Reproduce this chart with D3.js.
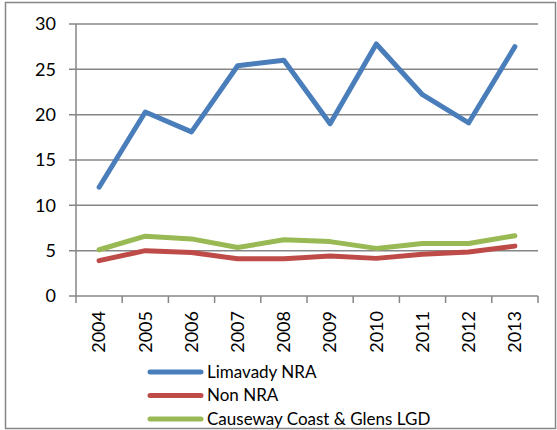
<!DOCTYPE html>
<html>
<head>
<meta charset="utf-8">
<script src="https://cdn.jsdelivr.net/npm/d3@7"></script>
<style>
  body { margin: 0; background: #fff; }
  text { font-family: Lato, "Noto Sans", sans-serif; fill: #000; }
</style>
</head>
<body>
<script>
const years = ["2004", "2005", "2006", "2007", "2008", "2009", "2010", "2011", "2012", "2013"];
const limavady = [12.0, 20.3, 18.1, 25.4, 26.0, 19.0, 27.8, 22.2, 19.1, 27.5];
const nonNra = [3.9, 5.0, 4.8, 4.1, 4.1, 4.4, 4.15, 4.6, 4.85, 5.5];
const causeway = [5.1, 6.6, 6.3, 5.35, 6.2, 6.0, 5.25, 5.8, 5.8, 6.65];
const seriesNames = ["Limavady NRA", "Non NRA", "Causeway Coast & Glens LGD"];
const yTicks = [0, 5, 10, 15, 20, 25, 30];

const colors = ["#4a7ebb", "#be4b48", "#98b954"];
const seriesData = [limavady, nonNra, causeway];

const W = 557, H = 430;
const svg = d3.select("body").append("svg")
    .attr("width", W)
    .attr("height", H);

// outer chart border
svg.append("rect")
    .attr("x", 5.5).attr("y", 2.5)
    .attr("width", 550).attr("height", 426)
    .attr("fill", "none")
    .attr("stroke", "#868686")
    .attr("stroke-width", 1.5);

const plot = {left: 76, right: 538, top: 24, bottom: 296};

const x = d3.scaleBand()
    .domain(years)
    .range([plot.left, plot.right]);

const y = d3.scaleLinear()
    .domain([0, 30])
    .range([plot.bottom, plot.top]);

// gridlines
svg.append("g")
    .selectAll("line")
    .data(yTicks)
    .join("line")
    .attr("x1", plot.left - 7)
    .attr("x2", plot.right)
    .attr("y1", d => y(d))
    .attr("y2", d => y(d))
    .attr("stroke", "#868686")
    .attr("stroke-width", 1.5);

// y axis
svg.append("line")
    .attr("x1", plot.left).attr("x2", plot.left)
    .attr("y1", plot.top).attr("y2", plot.bottom)
    .attr("stroke", "#868686")
    .attr("stroke-width", 1.5);

svg.append("g")
    .selectAll("text")
    .data(yTicks)
    .join("text")
    .attr("x", 56)
    .attr("y", d => y(d))
    .attr("dy", "0.35em")
    .attr("text-anchor", "end")
    .style("font-size", "18px")
    .text(d => d);

// x axis ticks, between categories
const xTickPos = years.map(d => x(d)).concat([plot.right]);
svg.append("g")
    .selectAll("line")
    .data(xTickPos)
    .join("line")
    .attr("x1", d => d).attr("x2", d => d)
    .attr("y1", plot.bottom).attr("y2", plot.bottom + 7)
    .attr("stroke", "#868686")
    .attr("stroke-width", 1.5);

svg.append("g")
    .selectAll("text")
    .data(years)
    .join("text")
    .attr("transform", d => "translate(" + (x(d) + x.bandwidth() / 2) + "," + 311 + ") rotate(-90)")
    .attr("dy", "0.35em")
    .attr("text-anchor", "end")
    .style("font-size", "18px")
    .text(d => d);

// lines
const line = d3.line()
    .x((d, i) => x(years[i]) + x.bandwidth() / 2)
    .y(d => y(d));

svg.append("g")
    .selectAll("path")
    .data(seriesData)
    .join("path")
    .attr("d", d => line(d))
    .attr("fill", "none")
    .attr("stroke", (d, i) => colors[i])
    .attr("stroke-width", 5)
    .attr("stroke-linejoin", "round")
    .attr("stroke-linecap", "round");

// legend
const legend = svg.append("g")
    .selectAll("g")
    .data(seriesNames)
    .join("g")
    .attr("transform", (d, i) => "translate(0," + (372 + i * 23.5) + ")");

legend.append("line")
    .attr("x1", 150).attr("x2", 201)
    .attr("stroke", (d, i) => colors[i])
    .attr("stroke-width", 5)
    .attr("stroke-linecap", "round");

legend.append("text")
    .attr("x", 207)
    .attr("dy", "0.35em")
    .style("font-size", "17px")
    .text(d => d);
</script>
</body>
</html>
